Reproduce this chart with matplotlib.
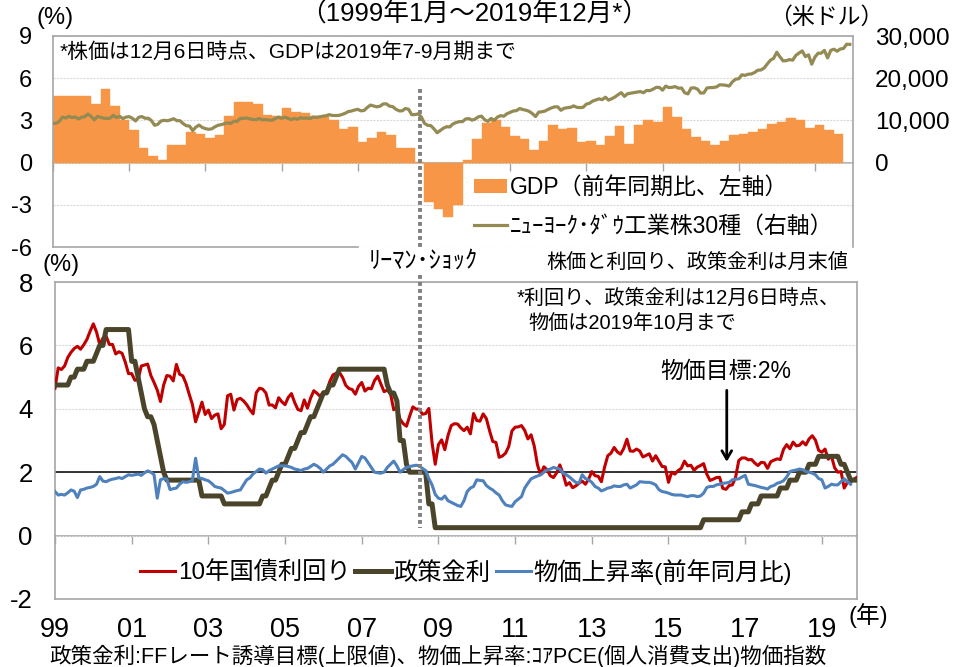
import numpy as np
import matplotlib
matplotlib.use("Agg")
import matplotlib.pyplot as plt
from matplotlib.patches import Patch
from matplotlib.lines import Line2D
from matplotlib.ticker import FuncFormatter

plt.rcParams["font.family"] = ["Liberation Sans", "Noto Sans CJK JP"]
plt.rcParams["axes.unicode_minus"] = False

# ---------------- data ----------------
# Real GDP, y/y %, quarterly 1999Q1 - 2019Q3
gdp_yoy = [
    4.74, 4.70, 4.70, 4.76,
    4.20, 5.26, 4.05, 3.00,
    2.30, 1.05, 0.45, 0.20,
    1.24, 1.24, 2.14, 2.05,
    1.76, 1.98, 3.30, 4.30,
    4.30, 4.20, 3.40, 3.30,
    3.90, 3.60, 3.50, 3.30,
    3.30, 3.05, 2.40, 2.55,
    1.45, 1.76, 2.17, 1.98,
    1.05, 1.05, 0.05, -2.80,
    -3.30, -3.90, -3.00, 0.17,
    1.70, 2.80, 3.05, 2.50,
    1.86, 1.70, 0.90, 1.57,
    2.70, 2.40, 2.45, 1.50,
    1.57, 1.26, 1.86, 2.57,
    1.33, 2.67, 3.05, 2.88,
    3.95, 3.26, 2.36, 1.83,
    1.57, 1.26, 1.57, 1.98,
    2.05, 2.17, 2.36, 2.76,
    2.88, 3.17, 3.05, 2.45,
    2.64, 2.29, 2.05,
]

# Dow Jones Industrial Average, month-end, Jan 1999 - Dec 2019
dow = [
    9359, 9307, 9786, 10789, 10560, 10971, 10655, 10829, 10337, 10729, 10878, 11497,
    10941, 10128, 10922, 10734, 10522, 10448, 10522, 11215, 10651, 10971, 10415, 10787,
    10887, 10495, 9879, 10735, 10912, 10502, 10523, 9950, 8848, 9075, 9852, 10021,
    9920, 10106, 10404, 9946, 9925, 9243, 8737, 8664, 7592, 8397, 8896, 8342,
    8054, 7891, 7992, 8480, 8850, 8985, 9234, 9416, 9275, 9801, 9782, 10454,
    10488, 10584, 10358, 10226, 10188, 10435, 10140, 10174, 10080, 10027, 10428, 10783,
    10490, 10766, 10504, 10193, 10467, 10275, 10641, 10482, 10569, 10440, 10806, 10718,
    10865, 10993, 11109, 11367, 11168, 11150, 11186, 11381, 11679, 12081, 12222, 12463,
    12622, 12269, 12354, 13063, 13628, 13409, 13212, 13358, 13896, 13930, 13372, 13265,
    12650, 12266, 12263, 12820, 12638, 11350, 11378, 11544, 10851, 9325, 8829, 8776,
    8001, 7063, 7609, 8168, 8500, 8447, 9172, 9496, 9712, 9713, 10345, 10428,
    10067, 10325, 10857, 11009, 10137, 9774, 10466, 10015, 10788, 11118, 11006, 11578,
    11892, 12226, 12320, 12811, 12570, 12414, 12143, 11614, 10913, 11955, 12046, 12218,
    12633, 12952, 13212, 13214, 12393, 12880, 13009, 13091, 13437, 13096, 13026, 13104,
    13861, 14054, 14579, 14840, 15116, 14910, 15500, 14810, 15130, 15546, 16086, 16577,
    15699, 16322, 16458, 16581, 16717, 16827, 16563, 17098, 17043, 17391, 17828, 17823,
    17165, 18133, 17776, 17841, 18011, 17620, 17690, 16528, 16285, 17664, 17720, 17425,
    16466, 16517, 17685, 17774, 17787, 17930, 18432, 18401, 18308, 18142, 19124, 19763,
    19864, 20812, 20663, 20941, 21009, 21350, 21891, 21948, 22405, 23377, 24272, 24719,
    26149, 25029, 24103, 24163, 24416, 24271, 25415, 25965, 26458, 25116, 25538, 23327,
    24999, 25916, 25929, 26593, 24815, 26600, 26864, 26403, 26917, 27046, 28051, 28015,
]

# 10-year Treasury yield, month-end, Jan 1999 - Dec 2019
yield_10y = [
    4.65, 5.29, 5.24, 5.35, 5.62, 5.78, 5.90, 5.97, 5.88, 6.02, 6.19, 6.45,
    6.68, 6.42, 6.03, 6.23, 6.29, 6.03, 6.03, 5.73, 5.80, 5.75, 5.47, 5.11,
    5.11, 4.90, 4.92, 5.35, 5.38, 5.41, 5.05, 4.83, 4.59, 4.23, 4.75, 5.05,
    5.03, 4.88, 5.40, 5.09, 5.04, 4.80, 4.46, 4.14, 3.59, 3.89, 4.21, 3.82,
    3.96, 3.69, 3.80, 3.84, 3.37, 3.51, 4.41, 4.46, 3.96, 4.29, 4.33, 4.25,
    4.13, 3.97, 3.84, 4.51, 4.65, 4.62, 4.50, 4.12, 4.12, 4.03, 4.35, 4.22,
    4.13, 4.36, 4.48, 4.20, 3.98, 3.94, 4.28, 4.02, 4.34, 4.57, 4.49, 4.39,
    4.53, 4.55, 4.86, 5.07, 5.12, 5.15, 4.99, 4.74, 4.64, 4.61, 4.46, 4.71,
    4.83, 4.56, 4.65, 4.63, 4.89, 5.03, 4.78, 4.54, 4.59, 4.48, 3.97, 4.04,
    3.67, 3.53, 3.45, 3.77, 4.06, 3.99, 3.99, 3.83, 3.85, 4.01, 2.93, 2.25,
    2.87, 3.02, 2.71, 3.16, 3.47, 3.53, 3.52, 3.40, 3.31, 3.42, 3.21, 3.85,
    3.63, 3.61, 3.84, 3.69, 3.31, 2.97, 2.94, 2.47, 2.51, 2.60, 2.81, 3.30,
    3.42, 3.43, 3.47, 3.32, 3.05, 3.18, 2.82, 2.23, 1.92, 2.17, 2.08, 1.89,
    1.83, 1.98, 2.23, 1.95, 1.59, 1.67, 1.51, 1.57, 1.65, 1.72, 1.62, 1.78,
    2.02, 1.89, 1.87, 1.70, 2.16, 2.52, 2.60, 2.78, 2.64, 2.57, 2.75, 3.04,
    2.67, 2.66, 2.73, 2.67, 2.48, 2.53, 2.58, 2.35, 2.52, 2.35, 2.18, 2.17,
    1.68, 2.00, 1.94, 2.05, 2.12, 2.35, 2.20, 2.22, 2.06, 2.16, 2.21, 2.27,
    1.94, 1.74, 1.78, 1.83, 1.84, 1.49, 1.46, 1.58, 1.60, 1.84, 2.37, 2.45,
    2.45, 2.39, 2.40, 2.29, 2.21, 2.31, 2.30, 2.12, 2.33, 2.38, 2.42, 2.40,
    2.72, 2.87, 2.74, 2.95, 2.83, 2.85, 2.96, 2.86, 3.05, 3.15, 3.01, 2.69,
    2.63, 2.73, 2.41, 2.51, 2.14, 2.00, 2.02, 1.50, 1.68, 1.69, 1.78, 1.84,
]

# FF target rate (upper bound), month-end, Jan 1999 - Dec 2019
policy_rate = [
    4.75, 4.75, 4.75, 4.75, 4.75, 5.00, 5.00, 5.25, 5.25, 5.25, 5.50, 5.50,
    5.50, 5.75, 6.00, 6.00, 6.50, 6.50, 6.50, 6.50, 6.50, 6.50, 6.50, 6.50,
    5.50, 5.50, 5.00, 4.50, 4.00, 3.75, 3.75, 3.50, 3.00, 2.50, 2.00, 1.75,
    1.75, 1.75, 1.75, 1.75, 1.75, 1.75, 1.75, 1.75, 1.75, 1.75, 1.25, 1.25,
    1.25, 1.25, 1.25, 1.25, 1.25, 1.00, 1.00, 1.00, 1.00, 1.00, 1.00, 1.00,
    1.00, 1.00, 1.00, 1.00, 1.00, 1.25, 1.25, 1.50, 1.75, 1.75, 2.00, 2.25,
    2.25, 2.50, 2.75, 2.75, 3.00, 3.25, 3.25, 3.50, 3.75, 3.75, 4.00, 4.25,
    4.50, 4.50, 4.75, 4.75, 5.00, 5.25, 5.25, 5.25, 5.25, 5.25, 5.25, 5.25,
    5.25, 5.25, 5.25, 5.25, 5.25, 5.25, 5.25, 5.25, 4.75, 4.50, 4.50, 4.25,
    3.00, 3.00, 2.25, 2.00, 2.00, 2.00, 2.00, 2.00, 2.00, 1.00, 1.00, 0.25,
    0.25, 0.25, 0.25, 0.25, 0.25, 0.25, 0.25, 0.25, 0.25, 0.25, 0.25, 0.25,
    0.25, 0.25, 0.25, 0.25, 0.25, 0.25, 0.25, 0.25, 0.25, 0.25, 0.25, 0.25,
    0.25, 0.25, 0.25, 0.25, 0.25, 0.25, 0.25, 0.25, 0.25, 0.25, 0.25, 0.25,
    0.25, 0.25, 0.25, 0.25, 0.25, 0.25, 0.25, 0.25, 0.25, 0.25, 0.25, 0.25,
    0.25, 0.25, 0.25, 0.25, 0.25, 0.25, 0.25, 0.25, 0.25, 0.25, 0.25, 0.25,
    0.25, 0.25, 0.25, 0.25, 0.25, 0.25, 0.25, 0.25, 0.25, 0.25, 0.25, 0.25,
    0.25, 0.25, 0.25, 0.25, 0.25, 0.25, 0.25, 0.25, 0.25, 0.25, 0.25, 0.50,
    0.50, 0.50, 0.50, 0.50, 0.50, 0.50, 0.50, 0.50, 0.50, 0.50, 0.50, 0.75,
    0.75, 0.75, 1.00, 1.00, 1.00, 1.25, 1.25, 1.25, 1.25, 1.25, 1.25, 1.50,
    1.50, 1.50, 1.75, 1.75, 1.75, 2.00, 2.00, 2.00, 2.25, 2.25, 2.25, 2.50,
    2.50, 2.50, 2.50, 2.50, 2.50, 2.50, 2.25, 2.25, 2.00, 1.75, 1.75, 1.75,
]

# Core PCE price index, y/y %, Jan 1999 - Oct 2019
core_pce = [
    1.39, 1.28, 1.30, 1.28, 1.35, 1.44, 1.40, 1.20, 1.44, 1.46, 1.50, 1.52,
    1.55, 1.62, 1.86, 1.72, 1.70, 1.75, 1.78, 1.80, 1.83, 1.80, 1.86, 1.92,
    1.90, 1.92, 1.94, 1.90, 1.98, 2.04, 2.00, 1.92, 1.18, 1.76, 1.80, 1.78,
    1.45, 1.48, 1.50, 1.62, 1.70, 1.68, 1.70, 1.74, 2.44, 1.82, 1.80, 1.76,
    1.73, 1.65, 1.55, 1.52, 1.50, 1.42, 1.34, 1.36, 1.39, 1.42, 1.44, 1.60,
    1.76, 1.82, 1.95, 2.02, 2.10, 2.08, 1.97, 2.05, 2.10, 2.15, 2.20, 2.20,
    2.20, 2.18, 2.15, 2.10, 2.08, 2.05, 2.10, 2.12, 2.18, 2.25, 2.20, 2.12,
    2.00, 2.10, 2.20, 2.25, 2.35, 2.45, 2.55, 2.50, 2.40, 2.30, 2.10, 2.30,
    2.50, 2.45, 2.30, 2.15, 2.00, 1.98, 1.97, 2.00, 2.15, 2.25, 2.35, 2.20,
    2.00, 2.08, 2.15, 2.18, 2.20, 2.22, 2.20, 2.12, 2.05, 1.80, 1.60, 1.30,
    1.18, 1.15, 1.25, 1.10, 1.05, 1.00, 0.95, 0.92, 1.10, 1.39, 1.50, 1.55,
    1.76, 1.74, 1.73, 1.58, 1.50, 1.44, 1.35, 1.28, 1.10, 0.97, 0.94, 0.92,
    1.07, 1.15, 1.23, 1.50, 1.65, 1.79, 1.84, 1.88, 1.92, 2.00, 2.07, 2.10,
    2.15, 2.12, 2.10, 1.97, 1.92, 1.85, 1.76, 1.68, 1.65, 1.92, 1.80, 1.76,
    1.68, 1.55, 1.50, 1.41, 1.45, 1.50, 1.52, 1.57, 1.55, 1.55, 1.60, 1.62,
    1.50, 1.55, 1.60, 1.70, 1.69, 1.68, 1.68, 1.65, 1.60, 1.45, 1.39, 1.37,
    1.34, 1.30, 1.28, 1.28, 1.28, 1.25, 1.23, 1.26, 1.26, 1.23, 1.25, 1.34,
    1.52, 1.55, 1.55, 1.60, 1.62, 1.65, 1.66, 1.68, 1.76, 1.78, 1.79, 1.85,
    1.90, 1.62, 1.60, 1.58, 1.55, 1.52, 1.50, 1.47, 1.55, 1.58, 1.65, 1.68,
    1.73, 1.85, 2.02, 2.05, 2.07, 2.10, 2.08, 2.02, 2.00, 1.97, 1.92, 1.80,
    1.76, 1.50, 1.55, 1.62, 1.60, 1.60, 1.70, 1.79, 1.70, 1.62,
]

year_ticks = list(range(1999, 2020, 2))
year_labels = ["99", "01", "03", "05", "07", "09", "11", "13", "15", "17", "19"]
inflation_target = 2.0
lehman_quarter = 2008.625   # 2008Q3

# ---------------- styling ----------------
C_GDP = "#F79646"
C_DOW = "#948A54"
C_YLD = "#C00000"
C_FF = "#4A452A"
C_PCE = "#4F81BD"
C_FRAME = "#A6A6A6"
C_GRID = "#D9D9D9"

W, H = 956, 667
fig = plt.figure(figsize=(W / 100, H / 100), dpi=100)


def fx(px):
    return px / W


def fy(py):
    return 1 - py / H


def panel(left, top, right, bottom):
    return fig.add_axes([fx(left), fy(bottom), fx(right) - fx(left), fy(top) - fy(bottom)])


# ---------------- upper panel: GDP bars + Dow ----------------
ax1 = panel(53, 36, 853, 247)
q_x = 1999.125 + 0.25 * np.arange(len(gdp_yoy))
ax1.bar(q_x, gdp_yoy, width=0.25, color=C_GDP, edgecolor=C_GDP, linewidth=0.3, zorder=2)
ax1.set_xlim(1999, 2020)
ax1.set_ylim(-6, 9)
ax1.set_yticks([-6, -3, 0, 3, 6, 9])
ax1.set_yticklabels(["-6", "-3", "0", "3", "6", "9"])
ax1.tick_params(axis="y", length=0, pad=15, labelsize=17)
ax1.tick_params(axis="x", length=0, labelbottom=False)
ax1.set_axisbelow(True)
ax1.grid(axis="y", color=C_GRID, linewidth=0.8, linestyle=(0, (2, 1)))
for s in ("left", "right", "top", "bottom"):
    ax1.spines[s].set_color(C_FRAME)
    ax1.spines[s].set_linewidth(1.2)
ax1.spines["bottom"].set_bounds(1999, 2007)

zero1 = ax1.secondary_xaxis(6 / 15)
zero1.set_xticks(year_ticks)
zero1.tick_params(length=6, width=1.0, color=C_FRAME, labelbottom=False, labeltop=False)
for s in zero1.spines.values():
    s.set_color(C_FRAME)
    s.set_linewidth(1.2)

ax1.plot([lehman_quarter, lehman_quarter], [5.2, -6], color="#808080", lw=2.8,
         linestyle=(0, (1.0, 0.8)), dash_capstyle="butt", zorder=3)

ax2 = ax1.twinx()
m_x = 1999 + np.arange(len(dow)) / 12
ax2.plot(m_x, dow, color=C_DOW, lw=2.3, zorder=4)
ax2.set_ylim(-20000, 30000)
ax2.set_yticks([0, 10000, 20000, 30000])
ax2.yaxis.set_major_formatter(FuncFormatter(lambda v, p: f"{int(v):,}"))
ax2.tick_params(axis="y", length=0, pad=16, labelsize=17.5)
for s in ax2.spines.values():
    s.set_visible(False)

top_handles = [Patch(facecolor=C_GDP, edgecolor="none"), Line2D([], [], color=C_DOW, lw=2.3)]
top_labels = ["GDP（前年同期比、左軸）", "ﾆｭｰﾖｰｸ･ﾀﾞｳ工業株30種（右軸）"]
fig.legend(top_handles, top_labels, loc="upper left", bbox_to_anchor=(fx(474), fy(176)),
           frameon=False, fontsize=16.5, handlelength=1.45, handleheight=0.62,
           handletextpad=0.12, labelspacing=0.7, borderpad=0, borderaxespad=0)

# ---------------- lower panel: rates and prices ----------------
ax3 = panel(55, 282, 857, 599)
ax3.set_xlim(1999, 1999 + (len(yield_10y) - 1) / 12)
ax3.set_ylim(-2, 8)
ax3.set_yticks([-2, 0, 2, 4, 6, 8])
ax3.set_yticklabels(["-2", "0", "2", "4", "6", "8"])
ax3.tick_params(axis="y", length=0, pad=16, labelsize=18.5)
ax3.set_xticks(year_ticks)
ax3.set_xticklabels(year_labels)
ax3.tick_params(axis="x", length=0, pad=13, labelsize=19.5)
ax3.set_axisbelow(True)
ax3.grid(axis="y", color=C_GRID, linewidth=0.8, linestyle=(0, (2, 1)))
for s in ("left", "right", "top", "bottom"):
    ax3.spines[s].set_color(C_FRAME)
    ax3.spines[s].set_linewidth(1.2)

zero3 = ax3.secondary_xaxis(2 / 10)
zero3.set_xticks(year_ticks)
zero3.tick_params(length=6, width=1.0, color=C_FRAME, labelbottom=False, labeltop=False)
for s in zero3.spines.values():
    s.set_color(C_FRAME)
    s.set_linewidth(1.2)

ax3.axhline(inflation_target, color="black", lw=1.1, zorder=1.5)

mx_y = 1999 + np.arange(len(yield_10y)) / 12
mx_p = 1999 + np.arange(len(core_pce)) / 12
l_y, = ax3.plot(mx_y, yield_10y, color=C_YLD, lw=2.2, zorder=3)
l_f, = ax3.plot(mx_y, policy_rate, color=C_FF, lw=3.6, zorder=4)
l_p, = ax3.plot(mx_p, core_pce, color=C_PCE, lw=2.2, zorder=5)

# vertical marker at the same screen position as in the upper panel
fig.canvas.draw()
xd = ax1.transData.transform((lehman_quarter, 0))[0]
lehman_low = ax3.transData.inverted().transform((xd, 0))[0]
ax3.plot([lehman_low, lehman_low], [8.22, 0.25], color="#808080", lw=2.8,
         linestyle=(0, (1.0, 0.8)), dash_capstyle="butt", zorder=6, clip_on=False)

fig.legend([l_y, l_f, l_p], ["10年国債利回り", "政策金利", "物価上昇率(前年同月比)"],
           loc="center", bbox_to_anchor=(fx(466), fy(572)), ncol=3, frameon=False,
           fontsize=17.5, handlelength=1.45, handletextpad=0.12, columnspacing=0.2,
           borderpad=0, borderaxespad=0)

ax3.annotate("", xy=(2016.52, 2.24), xytext=(2016.52, 4.67),
             arrowprops=dict(arrowstyle="->,head_length=0.6,head_width=0.35", color="black", lw=2.0))

# ---------------- texts ----------------
fig.text(fx(474), fy(13), "（1999年1月～2019年12月*）", ha="center", va="center", fontsize=18.5)
fig.text(fx(37), fy(18), "(%)", ha="left", va="center", fontsize=17)
fig.text(fx(826), fy(17), "（米ドル）", ha="center", va="center", fontsize=16.5)
fig.text(fx(60), fy(52), "*株価は12月6日時点、GDPは2019年7-9月期まで", ha="left", va="center", fontsize=15)
fig.text(fx(423), fy(262), "ﾘｰﾏﾝ･ｼｮｯｸ", ha="center", va="center", fontsize=17.5)
fig.text(fx(848), fy(262), "株価と利回り、政策金利は月末値", ha="right", va="center", fontsize=14.5)
fig.text(fx(43), fy(265), "(%)", ha="left", va="center", fontsize=17)
fig.text(fx(517), fy(298), "*利回り、政策金利は12月6日時点、", ha="left", va="center", fontsize=14.5)
fig.text(fx(528), fy(324), "物価は2019年10月まで", ha="left", va="center", fontsize=14.5)
fig.text(fx(726), fy(371), "物価目標:2%", ha="center", va="center", fontsize=16.5)
fig.text(fx(868), fy(616), "(年)", ha="center", va="center", fontsize=17)
fig.text(fx(49), fy(656), "政策金利:FFレート誘導目標(上限値)、物価上昇率:ｺｱPCE(個人消費支出)物価指数",
         ha="left", va="center", fontsize=15.5)

fig.savefig("out.png", dpi=100, facecolor="white")
